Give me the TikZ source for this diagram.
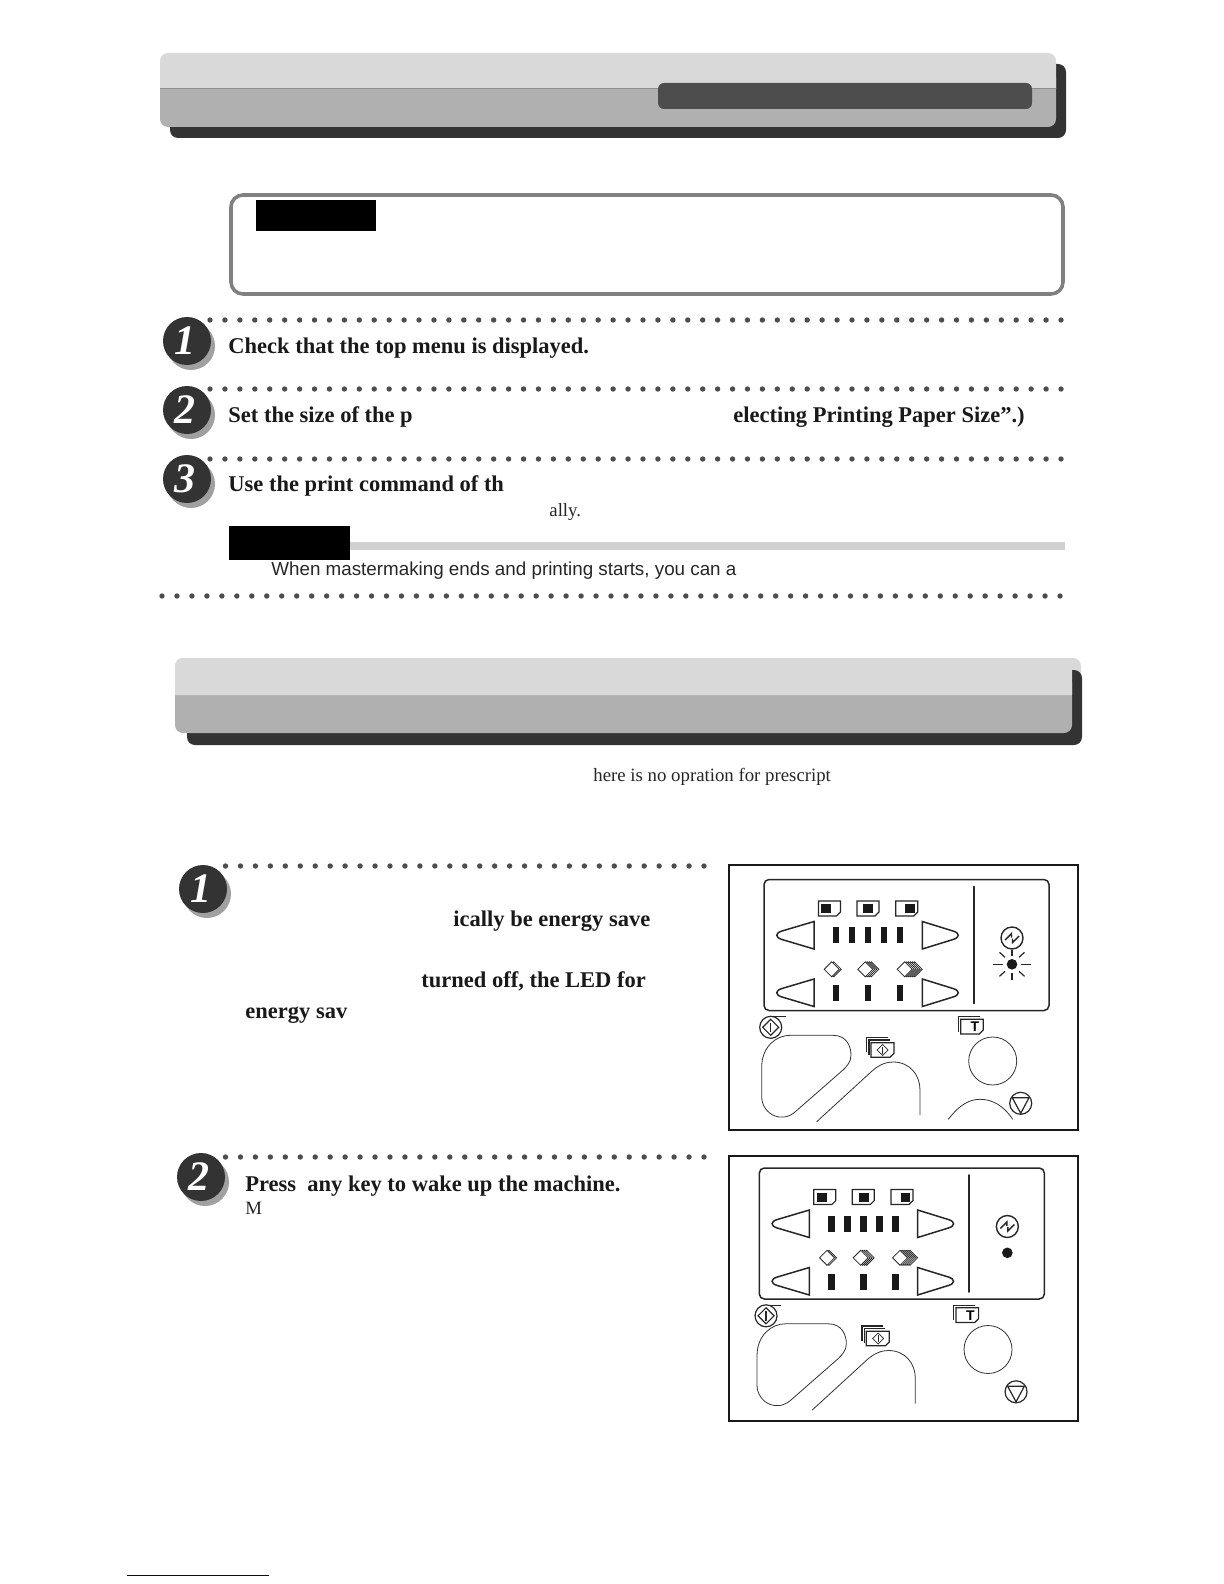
\documentclass[tikz,border=0pt]{standalone}
\usepackage{fontspec}
\setmainfont{Liberation Serif}
\newfontfamily\notefont{Liberation Sans}
\usetikzlibrary{positioning}
\definecolor{bandlight}{HTML}{D9D9D9}
\definecolor{bandmid}{HTML}{B0B0B0}
\definecolor{banddark}{HTML}{333333}
\definecolor{bandtab}{HTML}{4D4D4D}
\definecolor{dotgray}{HTML}{4D4D4D}
\definecolor{noteline}{HTML}{808080}
\definecolor{notebar}{HTML}{D0D0D0}
\definecolor{badgeshade}{HTML}{A0A0A0}
\definecolor{pagerule}{HTML}{000080}
\tikzset{
  stepbadge/.style={circle,fill=banddark,minimum size=24pt,inner sep=0pt,text=white,
    font=\fontsize{21}{22}\selectfont\bfseries\itshape},
  steptext/.style={anchor=base west,inner sep=0pt,text=black!90,font=\fontsize{11.25}{13}\selectfont\bfseries},
  bodytext/.style={anchor=base west,inner sep=0pt,text=black!85,font=\fontsize{9.4}{11}\selectfont},
  notetext/.style={anchor=base west,inner sep=0pt,text=black!85,font=\fontsize{9.4}{11}\selectfont\notefont},
  panelline/.style={draw=black!85,line width=0.75pt},
  keyline/.style={draw=black!80,line width=0.4pt},
  iconline/.style={draw=black!85,line width=0.6pt},
  diamondicon/.style={iconline,fill=white,line width=0.4pt}
}
% row of small dots: x0, x1, y, intervals
\newcommand\DotRow[4]{%
  \foreach \k in {0,...,#4}
    \fill[dotgray] ({#1+(#2-#1)/#4*\k},#3) circle (2.7);
}
\newcommand\StepBadge[4]{%
  \fill[badgeshade] (#2+4,#3+5) circle (24);
  \node[stepbadge] (#1) at (#2,#3) {\kern-2pt #4};
}
\newcommand\BandShape[5]{%
  \fill[bandmid,rounded corners=4pt] (#1,#4-20) rectangle (#3,#5);
  \fill[bandlight] (#1,#4) [rounded corners=4pt] -- (#1,#2) -- (#3,#2) [sharp corners] -- (#3,#4) -- cycle;
}
\newcommand\PageIcon[4]{%
  \draw[iconline,fill=white] (#1,#2) -- (#1+#3,#2) -- (#1+#3,#2+#4-4) -- (#1+#3-4,#2+#4) -- (#1,#2+#4) -- cycle;
}
\newcommand\PaperKey[3]{%
  \PageIcon{#1}{51}{22}{15}
  \fill[black!90] (#1+#2,54) rectangle (#1+#3,63);
}
\newcommand\PaperStack[2]{%
  \foreach \k in {#2,...,0}
    \draw[diamondicon] (#1-7.5+2*\k,119.3) -- (#1+2*\k,111.8) -- (#1+7.5+2*\k,119.3) -- (#1+2*\k,126.8) -- cycle;
}
\newcommand\ArrowPair[1]{%
  \draw[panelline] (94,#1) -- (62,#1+9.5) .. controls (55,#1+11.5) and (55,#1+16) .. (62,#1+18) -- (94,#1+27.5) -- cycle;
  \draw[panelline] (202.3,#1) -- (233,#1+9.5) .. controls (240,#1+11.5) and (240,#1+16) .. (233,#1+18) -- (202.3,#1+27.5) -- cycle;
}
% the parts that both control panels share
\newcommand\PanelFace{%
  \draw[panelline,rounded corners=2.5pt] (44,29.5) rectangle (329,160.5);
  \draw[line width=1pt,line cap=round,black!85] (253.7,36.7) -- (253.7,153.3);
  \PaperKey{98.5}{2.7}{12.7}
  \PaperKey{137}{6.3}{16.3}
  \PaperKey{175.7}{9.7}{19.3}
  \foreach \bx in {116,132,148,164,180}
    \fill[black!90] (\bx-3.2,77) rectangle (\bx+3.2,93);
  \foreach \bx in {116,148,180}
    \fill[black!90] (\bx-3.2,135) rectangle (\bx+3.2,151);
  \ArrowPair{71.5}
  \ArrowPair{129}
  \PaperStack{111.7}{1}
  \PaperStack{145.3}{3}
  \PaperStack{184.7}{5}
  % sync mark and LED
  \draw[iconline,line width=0.7pt] (292,88) circle (11);
  \draw[iconline,line width=0.7pt] (285,90) -- (291.5,83.5) -- (291.5,87.5);
  \draw[iconline,line width=0.7pt] (299,86) -- (292.5,92.5) -- (292.5,88.5);
  \fill[black!90] (292,114.3) circle (5.3);
  % start key
  \draw[iconline] (50.7,177.3) circle (11);
  \draw[iconline] (42.7,177.3) -- (50.7,169.3) -- (58.7,177.3) -- (50.7,185.3) -- cycle;
  \draw[iconline] (50.7,172.5) -- (50.7,182);
  \draw[iconline] (53,166.7) -- (66,166.7);
  \draw[keyline] (70,185.3) -- (113,185.3) .. controls (127,185.3) and (131,197) .. (131,205)
    .. controls (131,212) and (127,216) .. (123,220) -- (75,262)
    .. controls (68,268) and (60,268) .. (55,266) .. controls (47,263) and (41.7,255) .. (41.7,247)
    -- (41.7,217) .. controls (41.7,197) and (56,185.3) .. (70,185.3) -- cycle;
  \draw[keyline] (96.7,271.7) -- (152,221) .. controls (160,214) and (167,212) .. (173,212)
    .. controls (190,212) and (200,225) .. (200,240) -- (200,265);
  % multi copy key
  \draw[iconline,line width=0.7pt] (168,187.3) -- (146.7,187.3) -- (146.7,202);
  \draw[iconline,line width=0.7pt] (170,190) -- (149,190) -- (149,204.5);
  \PageIcon{151}{192.7}{23}{14.6}
  \draw[iconline,line width=0.35pt] (157.2,200) -- (162.7,194.5) -- (168.2,200) -- (162.7,205.5) -- cycle;
  \draw[iconline,line width=0.35pt] (162.7,196.5) -- (162.7,203.5);
  % proof key
  \draw[iconline,line width=0.7pt] (260,166.7) -- (238.3,166.7) -- (238.3,181.7);
  \PageIcon{240.7}{169.3}{22.6}{14.7}
  \node[inner sep=0pt,font=\fontsize{7}{8}\selectfont\notefont\bfseries] (proofT) at (255,176.7) {T};
  \draw[keyline] (272.7,211) circle (24);
  % stop key
  \draw[iconline] (300.7,253.3) circle (11);
  \draw[iconline] (292.3,247.7) -- (309,247.7) -- (300.7,263.3) -- cycle;
}
\begin{document}
\begin{tikzpicture}[x=0.5pt,y=-0.5pt]
  \useasboundingbox (0,0) rectangle (1224,1584);

  % top band
  \fill[banddark,rounded corners=4pt] (170,64) rectangle (1066,138);
  \BandShape{160}{53}{1056}{89}{127}
  \draw[bandmid!80!black,line width=0.5pt] (160,89) -- (1056,89);
  \fill[bandtab,rounded corners=3pt] (658,83) rectangle (1032,109);

  % note box
  \draw[noteline,line width=1.8pt,rounded corners=6pt] (231,195) rectangle (1063,294);
  \fill[black] (256,200) rectangle (376,231);

  % steps of the first part
  \DotRow{210}{1061}{320}{57}
  \DotRow{210}{1061}{389}{57}
  \DotRow{210}{1061}{459}{57}
  \StepBadge{stepone}{187}{341}{1}
  \StepBadge{steptwo}{187}{410}{2}
  \StepBadge{stepthree}{187}{479}{3}
  \node[steptext] (checkmenu) at (228,353) {Check that the top menu is displayed.};
  \node[steptext] (setsize) at (228,422) {Set the size of the p};
  \node[steptext] (selectsize) at (733,422) {electing Printing Paper Size”.)};
  \node[steptext] (printcmd) at (228,491) {Use the print command of th};
  \node[bodytext] (ally) at (549,516) {ally.};

  % hint bar
  \fill[notebar] (350,542) rectangle (1065,550);
  \fill[black] (229,526) rectangle (350,560);
  \node[notetext] (hint) at (271,575) {When mastermaking ends and printing starts, you can a};
  \DotRow{162}{1060}{596}{60}

  % second band
  \fill[bandlight,rounded corners=4pt] (175,658) rectangle (1081,700);
  \fill[banddark,rounded corners=4pt] (187,670) rectangle (1082,745);
  \BandShape{175}{658}{1072}{695}{733}
  \node[bodytext] (noop) at (593,781) {here is no opration for prescript};

  % steps of the second part
  \DotRow{225.5}{704}{866}{32}
  \DotRow{225.5}{704}{1157}{32}
  \StepBadge{sleepone}{203}{889}{1}
  \StepBadge{sleeptwo}{201}{1177}{2}
  \node[steptext] (saveA) at (453,926) {ically be energy save};
  \node[steptext] (saveB) at (421,987) {turned off, the LED for};
  \node[steptext] (saveC) at (245,1018) {energy sav};
  \node[steptext] (wake) at (245,1191) {Press~~any key to wake up the machine.};
  \node[bodytext] (wakeM) at (245,1214) {M};

  % control panels
  \draw[black!90,line width=0.9pt] (729,865) rectangle (1078,1130);
  \draw[black!90,line width=0.9pt] (729,1156) rectangle (1078,1421);
  \begin{scope}[shift={(720,850)}]
    \PanelFace
    \foreach \rx/\ry/\sx/\sy in {-8.7/0/-19.3/0, 8.7/0/19.3/0, 0/-8.3/0/-14, 0/8.3/0/15.7,
        -7/-7/-12.5/-12, 7/-7/12.5/-12, -7/7/-12.5/12, 7/7/12.5/12}
      \draw[iconline] (292+\rx,114.3+\ry) -- (292+\sx,114.3+\sy);
    \draw[keyline] (228.3,269.3) .. controls (240,254) and (250,249.3) .. (260,249.3)
      .. controls (272,249.3) and (283,255) .. (292.7,269.3);
  \end{scope}
  \begin{scope}[shift={(715.33,1138.5)}]
    \PanelFace
  \end{scope}

  % footnote rule
  \draw[pagerule,line width=0.5pt] (127,1575) -- (269,1575);
\end{tikzpicture}
\end{document}
